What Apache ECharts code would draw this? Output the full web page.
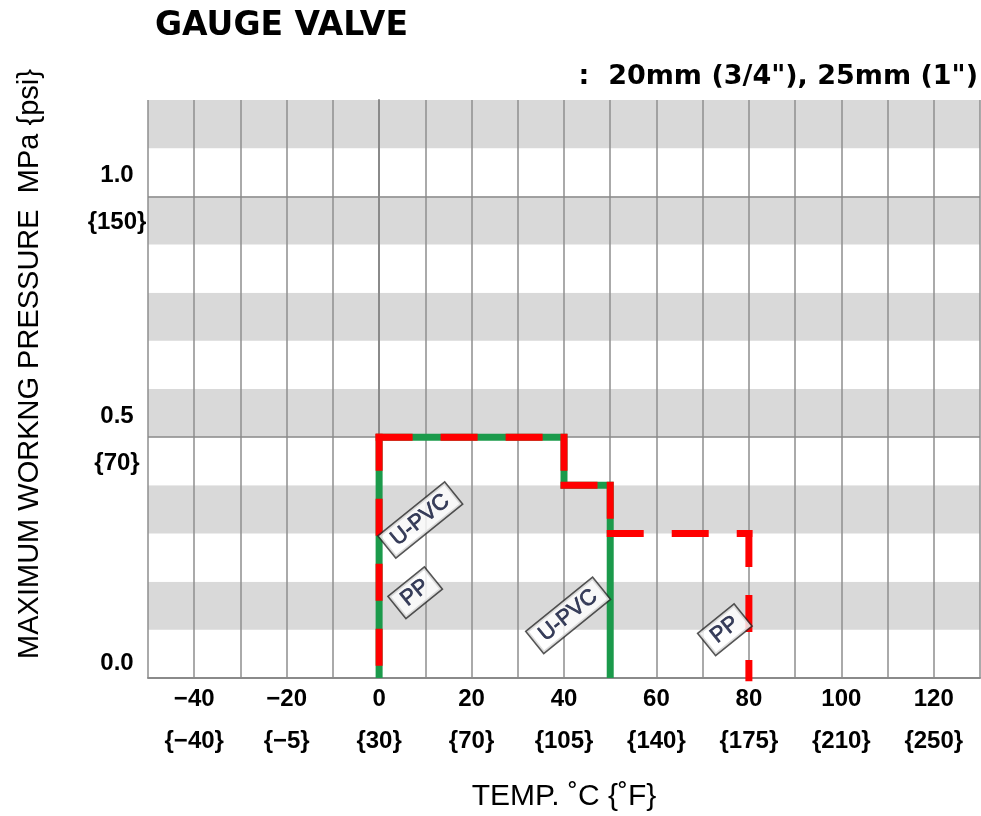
<!DOCTYPE html>
<html>
<head>
<meta charset="utf-8">
<script src="https://cdn.jsdelivr.net/npm/echarts@6/dist/echarts.min.js"></script>
<style>
html,body{margin:0;padding:0;background:#fff;}
#chart{width:981px;height:816px;}
</style>
</head>
<body>
<div id="chart"></div>
<script>
// ---- data ----
const titleText = 'GAUGE VALVE';
const subtitleText = ':  20mm (3/4"), 25mm (1")';
const xAxisName = 'TEMP. ˚C {˚F}';
const yAxisName = 'MAXIMUM WORKNG PRESSURE  MPa {psi}';

const xTickValues = [-40, -20, 0, 20, 40, 60, 80, 100, 120];
const xTickC = ['−40', '−20', '0', '20', '40', '60', '80', '100', '120'];
const xTickF = ['{−40}', '{−5}', '{30}', '{70}', '{105}', '{140}', '{175}', '{210}', '{250}'];

const yTickValues = [0, 0.5, 1.0];
const yTickMPa = ['0.0', '0.5', '1.0'];
const yTickPsi = ['', '{70}', '{150}'];
const yRefLines = [0.5, 1.0];

// [temperature °C, pressure MPa]
const upvcTemp = [0, 0, 40, 40, 50, 50];
const upvcPress = [0, 0.5, 0.5, 0.4, 0.4, 0];
const ppTemp = [0, 0, 40, 40, 50, 50, 80, 80];
const ppPress = [0, 0.5, 0.5, 0.4, 0.4, 0.3, 0.3, 0];

const tagNames = ['U-PVC', 'PP', 'U-PVC', 'PP'];
const tagTemp = [8.9, 7.8, 40.9, 74.8];
const tagPress = [0.328, 0.177, 0.13, 0.10];

// ---- build ----
const upvcData = upvcTemp.map((t, i) => [t, upvcPress[i]]);
const ppData = ppTemp.map((t, i) => [t, ppPress[i]]);
const tagData = tagNames.map((n, i) => ({ name: n, value: [tagTemp[i], tagPress[i]] }));

// split the PP step line into its segments, each dashed from its upper / left end
function segments(pts) {
  const out = [];
  for (let i = 0; i < pts.length - 1; i++) {
    let a = pts[i], b = pts[i + 1];
    const swap = (a[0] === b[0]) ? (a[1] < b[1]) : (a[0] > b[0]);
    if (swap) { const t = a; a = b; b = t; }
    out.push([a, b]);
  }
  return out;
}
const ppSegments = segments(ppData);

function findIdx(arr, v) {
  for (let i = 0; i < arr.length; i++) if (Math.abs(arr[i] - v) < 1e-6) return i;
  return -1;
}

const ppSeries = ppSegments.map((seg) => ({
  name: 'PP', type: 'line', data: seg, z: 6,
  showSymbol: false, symbol: 'none', silent: true,
  lineStyle: { color: '#ff0000', width: 7, type: [30, 35], cap: 'square', join: 'miter' }
}));

const chart = echarts.init(document.getElementById('chart'));
chart.setOption({
  animation: false,
  backgroundColor: '#ffffff',
  title: [
    { text: titleText, left: 155, top: 10, padding: 0,
      textStyle: { fontFamily: 'DejaVu Sans', fontWeight: 'bold', fontSize: 33, color: '#000' } },
    { text: subtitleText, right: 3, top: 63, padding: 0,
      textStyle: { fontFamily: 'DejaVu Sans', fontWeight: 'bold', fontSize: 27, color: '#000' } }
  ],
  grid: { left: 148, right: 1, top: 100, bottom: 138, containLabel: false, outerBoundsMode: 'none' },
  xAxis: {
    type: 'value', min: -50, max: 130, interval: 10,
    name: xAxisName, nameLocation: 'middle', nameGap: 104,
    nameTextStyle: { fontFamily: 'Liberation Sans', fontSize: 30, color: '#000' },
    axisLine: { show: true, lineStyle: { color: '#8a8a8a', width: 2 } },
    axisTick: { show: false },
    axisLabel: {
      margin: 0, lineHeight: 42,
      fontFamily: 'Liberation Sans', fontWeight: 'bold', fontSize: 24, color: '#000',
      formatter: function (v) {
        const i = findIdx(xTickValues, v);
        if (i < 0) return '';
        return xTickC[i] + '\n' + xTickF[i];
      }
    },
    splitLine: { show: true, lineStyle: { color: '#8e8e8e', width: 1.5 } }
  },
  yAxis: {
    type: 'value', min: 0, max: 1.2, interval: 0.1,
    name: yAxisName, nameLocation: 'middle', nameGap: 104, nameRotate: 90,
    nameTextStyle: { fontFamily: 'Liberation Sans', fontSize: 29, color: '#000', padding: [0, 0, 0, 50] },
    axisLine: { show: true, lineStyle: { color: '#8a8a8a', width: 2 } },
    axisTick: { show: false },
    axisLabel: {
      margin: 31, align: 'center', lineHeight: 47, padding: [6, 0, 0, 0],
      fontFamily: 'Liberation Sans', fontWeight: 'bold', fontSize: 24, color: '#000',
      formatter: function (v) {
        const i = findIdx(yTickValues, v);
        if (i < 0) return '';
        if (!yTickPsi[i]) return '{c|' + yTickMPa[i] + '}';
        return yTickMPa[i] + '\n' + yTickPsi[i];
      },
      rich: {
        c: { fontFamily: 'Liberation Sans', fontWeight: 'bold', fontSize: 24, color: '#000',
             lineHeight: 20, padding: [0, 0, 36, 0] }
      }
    },
    splitLine: { show: false },
    splitArea: { show: true, areaStyle: { color: ['#ffffff', '#d9d9d9'] } }
  },
  series: [
    {
      type: 'line', data: [], z: 1, silent: true,
      markLine: {
        silent: true, symbol: 'none', label: { show: false },
        lineStyle: { color: '#8a8a8a', width: 1.5, type: 'solid' },
        data: yRefLines.map(v => ({ yAxis: v }))
      }
    },
    {
      name: 'U-PVC', type: 'line', data: upvcData, z: 5,
      showSymbol: false, symbol: 'none', silent: true,
      lineStyle: { color: '#1b9a4b', width: 7, join: 'miter', cap: 'butt' }
    }
  ].concat(ppSeries).concat([
    {
      type: 'scatter', data: tagData, z: 10, symbolSize: 1, silent: true,
      itemStyle: { color: 'rgba(0,0,0,0)' },
      label: {
        show: true, position: 'inside', rotate: 39,
        formatter: '{b}',
        fontFamily: 'Liberation Sans', fontSize: 22, color: '#0a1235',
        textBorderColor: '#0a1235', textBorderWidth: 0.7,
        backgroundColor: '#ffffff', borderColor: '#2a2a2a', borderWidth: 1.6,
        padding: [3, 8, 2, 8]
      }
    }
  ])
});
</script>
</body>
</html>
